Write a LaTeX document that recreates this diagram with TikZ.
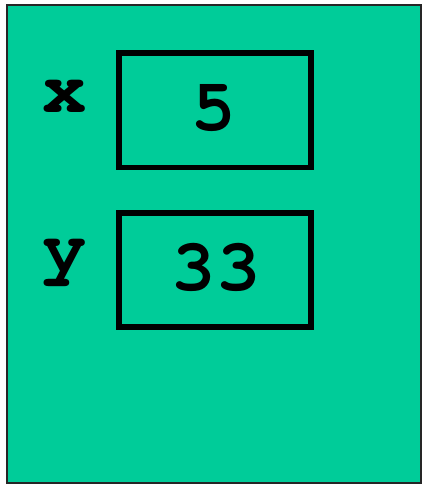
\documentclass[tikz,border=0pt]{standalone}
\usepackage{fontspec}
\newfontfamily\courfont{texgyrecursor-bold.otf}
\definecolor{teal1}{RGB}{0,204,153}
\begin{document}
\begin{tikzpicture}[x=1pt,y=-1pt,
  cell/.style={draw=black,line width=5.5pt,fill=teal1},
  lab/.style={inner sep=0pt,anchor=base,font=\courfont\fontsize{74}{74}\selectfont}]
\useasboundingbox (0,0) rectangle (423,485);
\draw[fill=teal1,draw=black!85,line width=2pt] (7,5) rectangle (421,483);
\draw[cell] (119,53) rectangle (311,167.5);
\draw[cell] (119,213) rectangle (311,327);
\node[lab] (x) at (64.5,112) {x};
\node[lab] (v5) at (214,130) {5};
\node[lab] (y) at (65,271) {y};
\node[lab] (v33) at (216,290) {33};
\end{tikzpicture}
\end{document}
